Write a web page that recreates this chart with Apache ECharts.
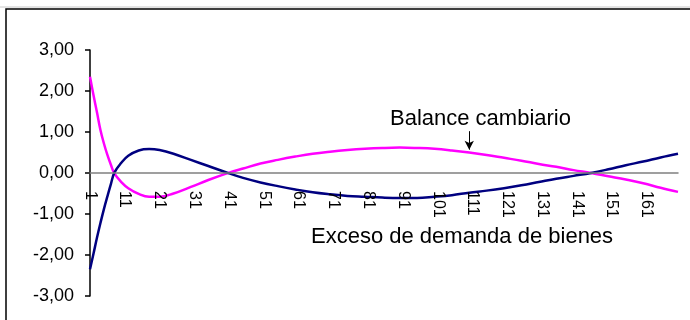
<!DOCTYPE html>
<html>
<head>
<meta charset="utf-8">
<script src="https://cdn.jsdelivr.net/npm/echarts@6/dist/echarts.min.js"></script>
<style>
html,body{margin:0;padding:0;background:#fff;}
#c{width:690px;height:320px;}
</style>
</head>
<body>
<div id="c"></div>
<script>
// Category labels 1..170
var categories = [];
for (var i = 1; i <= 170; i++) categories.push(String(i));

var sampleCats = [1,2,3,4,5,6,7,8,10,12,15,18,21,25,30,35,41,45,50,55,60,65,70,75,80,85,90,95,100,105,110,115,120,125,130,135,140,145,150,155,160,165,170];

// Exceso de demanda de bienes (navy)
var excesoVals = [-2.35,-1.97,-1.58,-1.22,-0.88,-0.57,-0.27,0.01,0.25,0.42,0.55,0.585,0.56,0.47,0.32,0.17,-0.01,-0.12,-0.23,-0.32,-0.40,-0.47,-0.52,-0.56,-0.58,-0.60,-0.61,-0.61,-0.58,-0.54,-0.48,-0.43,-0.37,-0.30,-0.22,-0.14,-0.07,0.0,0.09,0.19,0.28,0.38,0.47];

// Balance cambiario (magenta)
var balanceVals = [2.35,1.90,1.48,1.05,0.72,0.44,0.20,-0.01,-0.22,-0.37,-0.51,-0.58,-0.58,-0.50,-0.34,-0.17,0.01,0.11,0.23,0.32,0.40,0.47,0.52,0.56,0.59,0.61,0.62,0.61,0.59,0.55,0.50,0.44,0.37,0.30,0.22,0.15,0.07,0.0,-0.08,-0.16,-0.25,-0.36,-0.46];

// Y tick labels
var yMin = -3, yMax = 3, yInterval = 1;

var labelBalance = 'Balance cambiario';
var labelExceso = 'Exceso de demanda de bienes';

function pairs(vals) {
  return sampleCats.map(function (c, i) { return [c - 1, vals[i]]; });
}

var GRID_TOP = 50, GRID_BOTTOM = 24, H = 320;
var gridHeight = H - GRID_TOP - GRID_BOTTOM;
// move the category axis (line + labels) up to the value 0
var zeroOffset = -gridHeight * (0 - yMin) / (yMax - yMin);

var FONT = "'Liberation Sans', Arial, sans-serif";
var chart = echarts.init(document.getElementById('c'), null, {renderer: 'canvas'});
chart.setOption({
  animation: false,
  backgroundColor: '#ffffff',
  grid: {left: 90, right: 12, top: GRID_TOP, bottom: GRID_BOTTOM, containLabel: false, outerBoundsMode: 'none'},
  xAxis: {
    type: 'category',
    data: categories,
    boundaryGap: false,
    offset: zeroOffset,
    z: 5,
    axisLine: {onZero: false, lineStyle: {color: '#808080', width: 1.5}},
    axisTick: {show: false},
    axisLabel: {interval: 9, rotate: -90, margin: 18, color: '#000', fontSize: 16, fontFamily: FONT},
    splitLine: {show: false}
  },
  yAxis: {
    type: 'value',
    min: yMin, max: yMax, interval: yInterval,
    axisLine: {show: true, onZero: false, lineStyle: {color: '#000', width: 1.5}},
    axisTick: {show: true, length: 5, lineStyle: {color: '#000', width: 1.5}},
    axisLabel: {margin: 16, color: '#000', fontSize: 18, fontFamily: FONT,
      formatter: function (v) { return v.toFixed(2).replace('.', ','); }},
    splitLine: {show: false}
  },
  series: [
    {
      name: labelExceso, type: 'line', data: pairs(excesoVals),
      smooth: 0.4, showSymbol: false, symbol: 'none',
      lineStyle: {color: '#000080', width: 2.5}, itemStyle: {color: '#000080'}, z: 3
    },
    {
      name: labelBalance, type: 'line', data: pairs(balanceVals),
      smooth: 0.4, showSymbol: false, symbol: 'none',
      lineStyle: {color: '#FF00FF', width: 2.5}, itemStyle: {color: '#FF00FF'}, z: 2,
      markLine: {
        silent: true, symbol: ['none', 'arrow'], symbolSize: [7, 9],
        label: {show: false},
        lineStyle: {color: '#000', width: 1, type: 'solid'},
        data: [[{coord: [109, 1.02]}, {coord: [109, 0.57]}]]
      }
    }
  ],
  graphic: [
    {type: 'line', shape: {x1: 0, y1: 7, x2: 690, y2: 7}, style: {stroke: '#c8c8c8', lineWidth: 1}, silent: true},
    {type: 'rect', shape: {x: 6, y: 9, width: 760, height: 400}, style: {fill: 'none', stroke: '#000', lineWidth: 1.5}, silent: true},
    {type: 'text', left: 390, top: 108, style: {text: labelBalance, font: '22px ' + FONT, fill: '#000'}},
    {type: 'text', left: 311, top: 226, style: {text: labelExceso, font: '22px ' + FONT, fill: '#000'}}
  ]
});
</script>
</body>
</html>
